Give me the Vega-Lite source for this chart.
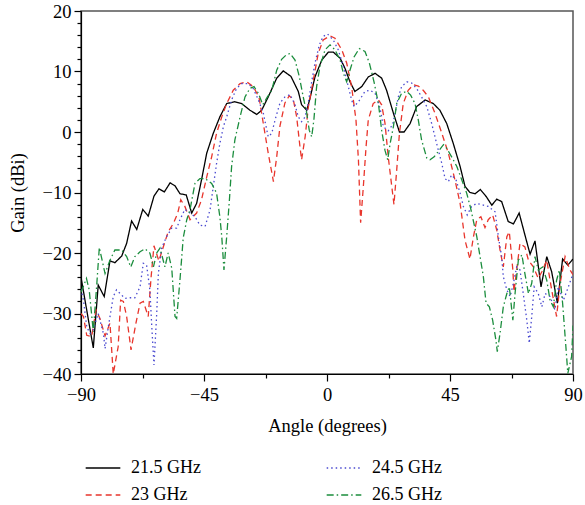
{
"$schema": "https://vega.github.io/schema/vega-lite/v6.json",
"width": 492, "height": 363,
"autosize": "none",
"padding": {"left": 81, "top": 11, "right": 12, "bottom": 131},
"background": "white",
"config": {"view": {"stroke": "#555", "strokeWidth": 1.5}, "font": "Liberation Serif"},
"data": {"values": [
{"s":"21.5 GHz","a":-90,"g":-24},{"s":"21.5 GHz","a":-85.5,"g":-35.7},{"s":"21.5 GHz","a":-83.7,"g":-25.3},{"s":"21.5 GHz","a":-81.5,"g":-27.2},{"s":"21.5 GHz","a":-79.4,"g":-21.3},{"s":"21.5 GHz","a":-77.6,"g":-21.6},{"s":"21.5 GHz","a":-75.1,"g":-20.5},{"s":"21.5 GHz","a":-73.3,"g":-18.4},{"s":"21.5 GHz","a":-71.5,"g":-14.7},{"s":"21.5 GHz","a":-69.6,"g":-16.1},{"s":"21.5 GHz","a":-67.4,"g":-12.8},{"s":"21.5 GHz","a":-65.4,"g":-13.9},{"s":"21.5 GHz","a":-63.3,"g":-10.6},{"s":"21.5 GHz","a":-61.5,"g":-9.4},{"s":"21.5 GHz","a":-59.5,"g":-9.9},{"s":"21.5 GHz","a":-57.4,"g":-8.4},{"s":"21.5 GHz","a":-55.6,"g":-8.9},{"s":"21.5 GHz","a":-53.8,"g":-10.2},{"s":"21.5 GHz","a":-51.5,"g":-10.4},{"s":"21.5 GHz","a":-49.5,"g":-13.4},{"s":"21.5 GHz","a":-47.7,"g":-11.8},{"s":"21.5 GHz","a":-45.9,"g":-7.9},{"s":"21.5 GHz","a":-44,"g":-3.5},{"s":"21.5 GHz","a":-41.6,"g":-0.2},{"s":"21.5 GHz","a":-39.2,"g":2.5},{"s":"21.5 GHz","a":-36.7,"g":4.7},{"s":"21.5 GHz","a":-33.7,"g":5},{"s":"21.5 GHz","a":-31.2,"g":4.7},{"s":"21.5 GHz","a":-28.2,"g":3.6},{"s":"21.5 GHz","a":-25.7,"g":2.9},{"s":"21.5 GHz","a":-23.9,"g":3.6},{"s":"21.5 GHz","a":-21.5,"g":5.8},{"s":"21.5 GHz","a":-18.4,"g":8.9},{"s":"21.5 GHz","a":-16,"g":10.1},{"s":"21.5 GHz","a":-13.2,"g":9.2},{"s":"21.5 GHz","a":-10.5,"g":6.7},{"s":"21.5 GHz","a":-9.3,"g":4.5},{"s":"21.5 GHz","a":-7.4,"g":3.6},{"s":"21.5 GHz","a":-6.2,"g":5.6},{"s":"21.5 GHz","a":-4.4,"g":9.1},{"s":"21.5 GHz","a":-1.9,"g":11.9},{"s":"21.5 GHz","a":0.5,"g":13.2},{"s":"21.5 GHz","a":2.3,"g":13.2},{"s":"21.5 GHz","a":4.8,"g":12.2},{"s":"21.5 GHz","a":6.6,"g":10.5},{"s":"21.5 GHz","a":8.4,"g":8.3},{"s":"21.5 GHz","a":10.2,"g":6.7},{"s":"21.5 GHz","a":12.7,"g":7.5},{"s":"21.5 GHz","a":15.1,"g":9.1},{"s":"21.5 GHz","a":17.6,"g":9.7},{"s":"21.5 GHz","a":20,"g":8.9},{"s":"21.5 GHz","a":21.8,"g":6.9},{"s":"21.5 GHz","a":24.3,"g":3.1},{"s":"21.5 GHz","a":26.5,"g":0},{"s":"21.5 GHz","a":28.2,"g":0},{"s":"21.5 GHz","a":30.4,"g":1.4},{"s":"21.5 GHz","a":32.8,"g":4.2},{"s":"21.5 GHz","a":35.9,"g":5.3},{"s":"21.5 GHz","a":38.9,"g":4.7},{"s":"21.5 GHz","a":41.3,"g":3.6},{"s":"21.5 GHz","a":43.8,"g":1.4},{"s":"21.5 GHz","a":46.2,"g":-1.9},{"s":"21.5 GHz","a":48.7,"g":-5.7},{"s":"21.5 GHz","a":50.5,"g":-9},{"s":"21.5 GHz","a":52.3,"g":-10},{"s":"21.5 GHz","a":54.2,"g":-10.2},{"s":"21.5 GHz","a":56.1,"g":-9.5},{"s":"21.5 GHz","a":58.3,"g":-10.7},{"s":"21.5 GHz","a":60.3,"g":-12.1},{"s":"21.5 GHz","a":62.1,"g":-11.1},{"s":"21.5 GHz","a":63.9,"g":-11.5},{"s":"21.5 GHz","a":66.3,"g":-14.8},{"s":"21.5 GHz","a":68.2,"g":-15.2},{"s":"21.5 GHz","a":70.3,"g":-13.4},{"s":"21.5 GHz","a":72.4,"g":-17},{"s":"21.5 GHz","a":74.3,"g":-20.2},{"s":"21.5 GHz","a":76.1,"g":-18},{"s":"21.5 GHz","a":78.3,"g":-25.6},{"s":"21.5 GHz","a":80.4,"g":-20.6},{"s":"21.5 GHz","a":82.2,"g":-23.1},{"s":"21.5 GHz","a":84.3,"g":-28.3},{"s":"21.5 GHz","a":86.2,"g":-21},{"s":"21.5 GHz","a":88.1,"g":-22},{"s":"21.5 GHz","a":90,"g":-21},
{"s":"23 GHz","a":-90,"g":-30},{"s":"23 GHz","a":-89.1,"g":-30.5},{"s":"23 GHz","a":-87.9,"g":-33.6},{"s":"23 GHz","a":-86.1,"g":-33.8},{"s":"23 GHz","a":-84.5,"g":-29.4},{"s":"23 GHz","a":-83.1,"g":-30.8},{"s":"23 GHz","a":-81.2,"g":-33.7},{"s":"23 GHz","a":-79.4,"g":-31.6},{"s":"23 GHz","a":-78.2,"g":-40},{"s":"23 GHz","a":-76.4,"g":-35.5},{"s":"23 GHz","a":-75.5,"g":-27.8},{"s":"23 GHz","a":-74.5,"g":-28},{"s":"23 GHz","a":-73.3,"g":-30.5},{"s":"23 GHz","a":-71.7,"g":-36},{"s":"23 GHz","a":-69.9,"g":-31.6},{"s":"23 GHz","a":-68.4,"g":-28.3},{"s":"23 GHz","a":-67.2,"g":-28},{"s":"23 GHz","a":-65.4,"g":-30.5},{"s":"23 GHz","a":-64.4,"g":-24.2},{"s":"23 GHz","a":-63.3,"g":-18.8},{"s":"23 GHz","a":-61.5,"g":-21.3},{"s":"23 GHz","a":-59.9,"g":-19},{"s":"23 GHz","a":-58.1,"g":-16.5},{"s":"23 GHz","a":-56.2,"g":-15.1},{"s":"23 GHz","a":-54.6,"g":-13.4},{"s":"23 GHz","a":-53.5,"g":-11.2},{"s":"23 GHz","a":-52,"g":-12.3},{"s":"23 GHz","a":-50.1,"g":-14.5},{"s":"23 GHz","a":-47.7,"g":-13.4},{"s":"23 GHz","a":-45.9,"g":-11.2},{"s":"23 GHz","a":-44,"g":-7.4},{"s":"23 GHz","a":-42.2,"g":-4.1},{"s":"23 GHz","a":-40.4,"g":-0.2},{"s":"23 GHz","a":-38.5,"g":2.5},{"s":"23 GHz","a":-36.7,"g":4.7},{"s":"23 GHz","a":-34.3,"g":6.9},{"s":"23 GHz","a":-31.8,"g":8},{"s":"23 GHz","a":-29.4,"g":8.3},{"s":"23 GHz","a":-27,"g":7.5},{"s":"23 GHz","a":-24.9,"g":5.8},{"s":"23 GHz","a":-23.3,"g":1.4},{"s":"23 GHz","a":-21.5,"g":-3.5},{"s":"23 GHz","a":-19.6,"g":-8.2},{"s":"23 GHz","a":-18.4,"g":-4.1},{"s":"23 GHz","a":-17.2,"g":1},{"s":"23 GHz","a":-15.4,"g":4.8},{"s":"23 GHz","a":-13.8,"g":6},{"s":"23 GHz","a":-12.3,"g":5.3},{"s":"23 GHz","a":-11.1,"g":2.5},{"s":"23 GHz","a":-9.9,"g":-2.4},{"s":"23 GHz","a":-9.3,"g":-4.6},{"s":"23 GHz","a":-8,"g":-0.8},{"s":"23 GHz","a":-6.8,"g":4.2},{"s":"23 GHz","a":-5,"g":8.6},{"s":"23 GHz","a":-3.2,"g":13},{"s":"23 GHz","a":-1.4,"g":15.2},{"s":"23 GHz","a":1.1,"g":15.9},{"s":"23 GHz","a":2.9,"g":15.5},{"s":"23 GHz","a":5.4,"g":13.6},{"s":"23 GHz","a":7.2,"g":11.4},{"s":"23 GHz","a":9,"g":7.5},{"s":"23 GHz","a":10.6,"g":2},{"s":"23 GHz","a":11.5,"g":-4.6},{"s":"23 GHz","a":12.3,"g":-15},{"s":"23 GHz","a":13.3,"g":-9},{"s":"23 GHz","a":14.3,"g":-2.4},{"s":"23 GHz","a":15.1,"g":2},{"s":"23 GHz","a":16.9,"g":4.7},{"s":"23 GHz","a":18.8,"g":5.3},{"s":"23 GHz","a":20,"g":4.5},{"s":"23 GHz","a":21.2,"g":1.5},{"s":"23 GHz","a":22.4,"g":-4.1},{"s":"23 GHz","a":23.7,"g":-9},{"s":"23 GHz","a":24.5,"g":-12},{"s":"23 GHz","a":25.5,"g":-6.3},{"s":"23 GHz","a":26.5,"g":-0.2},{"s":"23 GHz","a":27.9,"g":4.7},{"s":"23 GHz","a":29.7,"g":6.9},{"s":"23 GHz","a":31.6,"g":7.8},{"s":"23 GHz","a":33.4,"g":7.6},{"s":"23 GHz","a":35.2,"g":6.9},{"s":"23 GHz","a":37.1,"g":5.8},{"s":"23 GHz","a":39.5,"g":3.1},{"s":"23 GHz","a":42,"g":-0.2},{"s":"23 GHz","a":44.4,"g":-3.5},{"s":"23 GHz","a":46.8,"g":-7.9},{"s":"23 GHz","a":48.7,"g":-11.8},{"s":"23 GHz","a":50.5,"g":-17.9},{"s":"23 GHz","a":52.3,"g":-21},{"s":"23 GHz","a":53.5,"g":-17.5},{"s":"23 GHz","a":54.8,"g":-14.5},{"s":"23 GHz","a":56.3,"g":-14},{"s":"23 GHz","a":57.8,"g":-15.8},{"s":"23 GHz","a":59,"g":-14.5},{"s":"23 GHz","a":60.6,"g":-13.7},{"s":"23 GHz","a":62.1,"g":-16.2},{"s":"23 GHz","a":63.3,"g":-19.5},{"s":"23 GHz","a":64.5,"g":-22.3},{"s":"23 GHz","a":65.8,"g":-17.3},{"s":"23 GHz","a":66.7,"g":-16.5},{"s":"23 GHz","a":68,"g":-22.8},{"s":"23 GHz","a":68.4,"g":-26.4},{"s":"23 GHz","a":69.4,"g":-22.8},{"s":"23 GHz","a":70.6,"g":-18.4},{"s":"23 GHz","a":72.4,"g":-19},{"s":"23 GHz","a":73.7,"g":-21.2},{"s":"23 GHz","a":75.5,"g":-22.3},{"s":"23 GHz","a":77.3,"g":-24.2},{"s":"23 GHz","a":78.6,"g":-23.1},{"s":"23 GHz","a":80.4,"g":-21.2},{"s":"23 GHz","a":82.2,"g":-26.1},{"s":"23 GHz","a":84,"g":-30.5},{"s":"23 GHz","a":85.3,"g":-25},{"s":"23 GHz","a":87.1,"g":-20.6},{"s":"23 GHz","a":88.9,"g":-22.8},{"s":"23 GHz","a":90,"g":-23.6},
{"s":"24.5 GHz","a":-90,"g":-26},{"s":"24.5 GHz","a":-89.1,"g":-27.8},{"s":"24.5 GHz","a":-87.9,"g":-32.2},{"s":"24.5 GHz","a":-86.7,"g":-33.3},{"s":"24.5 GHz","a":-85.5,"g":-32.7},{"s":"24.5 GHz","a":-83.7,"g":-30},{"s":"24.5 GHz","a":-81.8,"g":-33.3},{"s":"24.5 GHz","a":-81.2,"g":-35.8},{"s":"24.5 GHz","a":-80,"g":-32.2},{"s":"24.5 GHz","a":-78.2,"g":-27.2},{"s":"24.5 GHz","a":-77,"g":-26.1},{"s":"24.5 GHz","a":-75.7,"g":-26.7},{"s":"24.5 GHz","a":-73.9,"g":-27.5},{"s":"24.5 GHz","a":-72.1,"g":-27.4},{"s":"24.5 GHz","a":-70.3,"g":-27.4},{"s":"24.5 GHz","a":-68.4,"g":-25.6},{"s":"24.5 GHz","a":-67.2,"g":-21.7},{"s":"24.5 GHz","a":-66,"g":-22},{"s":"24.5 GHz","a":-64.8,"g":-26.1},{"s":"24.5 GHz","a":-64.1,"g":-32.2},{"s":"24.5 GHz","a":-63.3,"g":-38.5},{"s":"24.5 GHz","a":-62.3,"g":-30},{"s":"24.5 GHz","a":-61.7,"g":-23.4},{"s":"24.5 GHz","a":-60.5,"g":-19.2},{"s":"24.5 GHz","a":-58.7,"g":-17.3},{"s":"24.5 GHz","a":-56.8,"g":-15.9},{"s":"24.5 GHz","a":-55,"g":-15.9},{"s":"24.5 GHz","a":-53.8,"g":-14.5},{"s":"24.5 GHz","a":-52,"g":-12.8},{"s":"24.5 GHz","a":-50.1,"g":-13.4},{"s":"24.5 GHz","a":-48.3,"g":-14},{"s":"24.5 GHz","a":-46.5,"g":-15.4},{"s":"24.5 GHz","a":-44.6,"g":-15.6},{"s":"24.5 GHz","a":-42.8,"g":-12.9},{"s":"24.5 GHz","a":-41.6,"g":-9},{"s":"24.5 GHz","a":-40.4,"g":-5.2},{"s":"24.5 GHz","a":-39.2,"g":-1.9},{"s":"24.5 GHz","a":-37.9,"g":0.9},{"s":"24.5 GHz","a":-36.7,"g":2.5},{"s":"24.5 GHz","a":-34.9,"g":5.3},{"s":"24.5 GHz","a":-33.1,"g":7.2},{"s":"24.5 GHz","a":-31.2,"g":8},{"s":"24.5 GHz","a":-28.8,"g":8},{"s":"24.5 GHz","a":-27,"g":7.2},{"s":"24.5 GHz","a":-25.1,"g":5.3},{"s":"24.5 GHz","a":-23.3,"g":3.1},{"s":"24.5 GHz","a":-21.5,"g":-0.8},{"s":"24.5 GHz","a":-20.2,"g":-0.2},{"s":"24.5 GHz","a":-19,"g":2},{"s":"24.5 GHz","a":-17.2,"g":4.8},{"s":"24.5 GHz","a":-15.4,"g":5.8},{"s":"24.5 GHz","a":-13.5,"g":6.2},{"s":"24.5 GHz","a":-11.7,"g":4.5},{"s":"24.5 GHz","a":-10.5,"g":2.5},{"s":"24.5 GHz","a":-9.3,"g":1.7},{"s":"24.5 GHz","a":-8,"g":2.5},{"s":"24.5 GHz","a":-6.8,"g":5},{"s":"24.5 GHz","a":-5.6,"g":8.3},{"s":"24.5 GHz","a":-4.4,"g":11.4},{"s":"24.5 GHz","a":-2.8,"g":14.4},{"s":"24.5 GHz","a":-1.4,"g":15.8},{"s":"24.5 GHz","a":0.2,"g":16.2},{"s":"24.5 GHz","a":2.3,"g":15.2},{"s":"24.5 GHz","a":4.1,"g":13.6},{"s":"24.5 GHz","a":6,"g":10.8},{"s":"24.5 GHz","a":7.8,"g":7.5},{"s":"24.5 GHz","a":9,"g":5.3},{"s":"24.5 GHz","a":9.9,"g":4.2},{"s":"24.5 GHz","a":11.5,"g":5},{"s":"24.5 GHz","a":13.9,"g":6.7},{"s":"24.5 GHz","a":15.7,"g":6.9},{"s":"24.5 GHz","a":17.6,"g":6.4},{"s":"24.5 GHz","a":19.4,"g":4},{"s":"24.5 GHz","a":20.6,"g":0.9},{"s":"24.5 GHz","a":22.4,"g":0.2},{"s":"24.5 GHz","a":24,"g":1.2},{"s":"24.5 GHz","a":24.9,"g":3.1},{"s":"24.5 GHz","a":26.1,"g":5.8},{"s":"24.5 GHz","a":27.3,"g":7.5},{"s":"24.5 GHz","a":29.2,"g":8.3},{"s":"24.5 GHz","a":31,"g":8.1},{"s":"24.5 GHz","a":32.8,"g":7.2},{"s":"24.5 GHz","a":34.6,"g":5.8},{"s":"24.5 GHz","a":36.5,"g":4.2},{"s":"24.5 GHz","a":38.3,"g":1.4},{"s":"24.5 GHz","a":40.1,"g":-1.9},{"s":"24.5 GHz","a":42,"g":-5.2},{"s":"24.5 GHz","a":43.2,"g":-7.7},{"s":"24.5 GHz","a":44.4,"g":-8.2},{"s":"24.5 GHz","a":45.6,"g":-7.1},{"s":"24.5 GHz","a":47.2,"g":-7.9},{"s":"24.5 GHz","a":48.7,"g":-10.1},{"s":"24.5 GHz","a":49.9,"g":-12.3},{"s":"24.5 GHz","a":51.3,"g":-13.7},{"s":"24.5 GHz","a":52.9,"g":-12.3},{"s":"24.5 GHz","a":54.8,"g":-11.8},{"s":"24.5 GHz","a":56.6,"g":-12},{"s":"24.5 GHz","a":59,"g":-12.3},{"s":"24.5 GHz","a":61.5,"g":-13.2},{"s":"24.5 GHz","a":62.7,"g":-17.3},{"s":"24.5 GHz","a":63.9,"g":-20.6},{"s":"24.5 GHz","a":64.5,"g":-23.9},{"s":"24.5 GHz","a":65.8,"g":-26.1},{"s":"24.5 GHz","a":67,"g":-27.2},{"s":"24.5 GHz","a":68.2,"g":-25},{"s":"24.5 GHz","a":69.4,"g":-22.3},{"s":"24.5 GHz","a":70.6,"g":-22.8},{"s":"24.5 GHz","a":71.8,"g":-26.7},{"s":"24.5 GHz","a":73.1,"g":-31.1},{"s":"24.5 GHz","a":74,"g":-34.9},{"s":"24.5 GHz","a":74.9,"g":-30.5},{"s":"24.5 GHz","a":75.8,"g":-25.6},{"s":"24.5 GHz","a":77.3,"g":-26.7},{"s":"24.5 GHz","a":78.6,"g":-28.9},{"s":"24.5 GHz","a":79.8,"g":-26.7},{"s":"24.5 GHz","a":81.6,"g":-27.2},{"s":"24.5 GHz","a":83.4,"g":-29.4},{"s":"24.5 GHz","a":84.6,"g":-25.6},{"s":"24.5 GHz","a":86.5,"g":-27.8},{"s":"24.5 GHz","a":88.3,"g":-25.6},{"s":"24.5 GHz","a":90,"g":-23.4},
{"s":"26.5 GHz","a":-90,"g":-26.5},{"s":"26.5 GHz","a":-88,"g":-24.2},{"s":"26.5 GHz","a":-87,"g":-26.1},{"s":"26.5 GHz","a":-85.5,"g":-33},{"s":"26.5 GHz","a":-84.2,"g":-25},{"s":"26.5 GHz","a":-83.3,"g":-19.1},{"s":"26.5 GHz","a":-81.2,"g":-23.4},{"s":"26.5 GHz","a":-79.4,"g":-21.2},{"s":"26.5 GHz","a":-77.6,"g":-19.5},{"s":"26.5 GHz","a":-75.1,"g":-19.5},{"s":"26.5 GHz","a":-73.3,"g":-20.6},{"s":"26.5 GHz","a":-71.8,"g":-22.3},{"s":"26.5 GHz","a":-70.3,"g":-20.6},{"s":"26.5 GHz","a":-68.4,"g":-19.8},{"s":"26.5 GHz","a":-66.6,"g":-19.3},{"s":"26.5 GHz","a":-64.8,"g":-20},{"s":"26.5 GHz","a":-63.5,"g":-22.3},{"s":"26.5 GHz","a":-62.3,"g":-20},{"s":"26.5 GHz","a":-61.1,"g":-19.2},{"s":"26.5 GHz","a":-59.3,"g":-22.3},{"s":"26.5 GHz","a":-58.1,"g":-20},{"s":"26.5 GHz","a":-56.8,"g":-22.5},{"s":"26.5 GHz","a":-55.6,"g":-30.5},{"s":"26.5 GHz","a":-55,"g":-30.8},{"s":"26.5 GHz","a":-53.8,"g":-24.5},{"s":"26.5 GHz","a":-52.6,"g":-17.5},{"s":"26.5 GHz","a":-51.3,"g":-14.5},{"s":"26.5 GHz","a":-50.1,"g":-12.8},{"s":"26.5 GHz","a":-48.3,"g":-8.5},{"s":"26.5 GHz","a":-46.5,"g":-7.7},{"s":"26.5 GHz","a":-44.6,"g":-7.7},{"s":"26.5 GHz","a":-42.2,"g":-8.5},{"s":"26.5 GHz","a":-40.4,"g":-10.1},{"s":"26.5 GHz","a":-39.2,"g":-14},{"s":"26.5 GHz","a":-38.5,"g":-17.3},{"s":"26.5 GHz","a":-37.7,"g":-22.8},{"s":"26.5 GHz","a":-36.7,"g":-17.3},{"s":"26.5 GHz","a":-35.7,"g":-11.2},{"s":"26.5 GHz","a":-34.9,"g":-5.7},{"s":"26.5 GHz","a":-33.7,"g":-1.3},{"s":"26.5 GHz","a":-31.8,"g":2.5},{"s":"26.5 GHz","a":-30,"g":5.8},{"s":"26.5 GHz","a":-28.2,"g":7.2},{"s":"26.5 GHz","a":-26.7,"g":7.5},{"s":"26.5 GHz","a":-25.1,"g":6.4},{"s":"26.5 GHz","a":-23.5,"g":4.5},{"s":"26.5 GHz","a":-21.8,"g":5.8},{"s":"26.5 GHz","a":-20.2,"g":6.9},{"s":"26.5 GHz","a":-18.4,"g":10.2},{"s":"26.5 GHz","a":-16.6,"g":12},{"s":"26.5 GHz","a":-15,"g":12.7},{"s":"26.5 GHz","a":-13.5,"g":13},{"s":"26.5 GHz","a":-11.7,"g":11.9},{"s":"26.5 GHz","a":-10.1,"g":9.1},{"s":"26.5 GHz","a":-8.7,"g":5.8},{"s":"26.5 GHz","a":-7.4,"g":3.1},{"s":"26.5 GHz","a":-6.5,"g":0.3},{"s":"26.5 GHz","a":-5.6,"g":-0.8},{"s":"26.5 GHz","a":-4.8,"g":2},{"s":"26.5 GHz","a":-3.8,"g":7.5},{"s":"26.5 GHz","a":-2.6,"g":10.8},{"s":"26.5 GHz","a":-0.7,"g":13.6},{"s":"26.5 GHz","a":1.1,"g":14.4},{"s":"26.5 GHz","a":2.9,"g":13.6},{"s":"26.5 GHz","a":4.8,"g":11.9},{"s":"26.5 GHz","a":6,"g":9.7},{"s":"26.5 GHz","a":7.2,"g":8.3},{"s":"26.5 GHz","a":8.4,"g":10.2},{"s":"26.5 GHz","a":9.9,"g":12.4},{"s":"26.5 GHz","a":11.8,"g":13.8},{"s":"26.5 GHz","a":13.9,"g":13.3},{"s":"26.5 GHz","a":15.5,"g":11.4},{"s":"26.5 GHz","a":17.2,"g":8.3},{"s":"26.5 GHz","a":18.8,"g":4.7},{"s":"26.5 GHz","a":20,"g":0.3},{"s":"26.5 GHz","a":21.2,"g":-3},{"s":"26.5 GHz","a":22.2,"g":-4.6},{"s":"26.5 GHz","a":23.1,"g":-1.9},{"s":"26.5 GHz","a":24.3,"g":0.9},{"s":"26.5 GHz","a":25.5,"g":4.7},{"s":"26.5 GHz","a":27.3,"g":6.4},{"s":"26.5 GHz","a":29.2,"g":6.7},{"s":"26.5 GHz","a":30.6,"g":6.1},{"s":"26.5 GHz","a":32.2,"g":4.7},{"s":"26.5 GHz","a":33.4,"g":2},{"s":"26.5 GHz","a":34.6,"g":-1.3},{"s":"26.5 GHz","a":36.5,"g":-4.3},{"s":"26.5 GHz","a":37.7,"g":-4.6},{"s":"26.5 GHz","a":39.2,"g":-4.1},{"s":"26.5 GHz","a":41.1,"g":-3},{"s":"26.5 GHz","a":42.6,"g":-2.1},{"s":"26.5 GHz","a":43.8,"g":-2.7},{"s":"26.5 GHz","a":45.6,"g":-4.1},{"s":"26.5 GHz","a":47.5,"g":-5.7},{"s":"26.5 GHz","a":49.3,"g":-7.9},{"s":"26.5 GHz","a":51.1,"g":-10.1},{"s":"26.5 GHz","a":52.5,"g":-12.5},{"s":"26.5 GHz","a":53.6,"g":-14.8},{"s":"26.5 GHz","a":54.8,"g":-17.3},{"s":"26.5 GHz","a":56,"g":-20.6},{"s":"26.5 GHz","a":57.2,"g":-23.9},{"s":"26.5 GHz","a":58.2,"g":-28.3},{"s":"26.5 GHz","a":59.4,"g":-28.9},{"s":"26.5 GHz","a":60.6,"g":-31.1},{"s":"26.5 GHz","a":61.8,"g":-34.4},{"s":"26.5 GHz","a":62.3,"g":-36.3},{"s":"26.5 GHz","a":63.3,"g":-33.3},{"s":"26.5 GHz","a":64.5,"g":-28.9},{"s":"26.5 GHz","a":65.8,"g":-26.7},{"s":"26.5 GHz","a":66.7,"g":-25.6},{"s":"26.5 GHz","a":68,"g":-31.1},{"s":"26.5 GHz","a":68.8,"g":-26.7},{"s":"26.5 GHz","a":70,"g":-21.2},{"s":"26.5 GHz","a":71.3,"g":-20.3},{"s":"26.5 GHz","a":72.4,"g":-23.4},{"s":"26.5 GHz","a":73.7,"g":-26.7},{"s":"26.5 GHz","a":74.9,"g":-25},{"s":"26.5 GHz","a":76.1,"g":-20.6},{"s":"26.5 GHz","a":77.3,"g":-22.8},{"s":"26.5 GHz","a":78.9,"g":-22.3},{"s":"26.5 GHz","a":80.4,"g":-24.5},{"s":"26.5 GHz","a":81.6,"g":-27.8},{"s":"26.5 GHz","a":82.8,"g":-28.9},{"s":"26.5 GHz","a":84,"g":-24.5},{"s":"26.5 GHz","a":85,"g":-22.8},{"s":"26.5 GHz","a":86.2,"g":-28.3},{"s":"26.5 GHz","a":87.4,"g":-35.5},{"s":"26.5 GHz","a":88.1,"g":-39.9},{"s":"26.5 GHz","a":89.5,"g":-37.1},{"s":"26.5 GHz","a":90,"g":-32}
]},
"mark": {"type": "line", "strokeWidth": 1.3, "clip": true},
"encoding": {
  "x": {"field": "a", "type": "quantitative", "scale": {"domain": [-90, 90], "nice": false, "zero": false},
    "axis": {"values": [-90,-67.5,-45,-22.5,0,22.5,45,67.5,90], "format": ".0f", "labelExpr": "datum.value % 45 === 0 ? datum.label : ''",
      "tickSize": {"condition": {"test": "datum.value % 45 === 0", "value": 7}, "value": 4},
      "grid": false, "domainColor": "black", "tickColor": "black", "tickWidth": 1.2, "domainWidth": 1.2,
      "labelFontSize": 18.5, "labelColor": "black", "labelPadding": 4, "labelOverlap": false, "labelFlush": false,
      "title": "Angle (degrees)", "titleFontSize": 18.5, "titleFontWeight": "normal", "titleColor": "black", "titlePadding": 13}},
  "y": {"field": "g", "type": "quantitative", "scale": {"domain": [-40, 20], "nice": false, "zero": false},
    "axis": {"values": [-40,-38,-36,-34,-32,-30,-28,-26,-24,-22,-20,-18,-16,-14,-12,-10,-8,-6,-4,-2,0,2,4,6,8,10,12,14,16,18,20], "labelExpr": "datum.value % 10 === 0 ? datum.label : ''",
      "tickSize": {"condition": {"test": "datum.value % 10 === 0", "value": 7}, "value": 4},
      "grid": false, "domainColor": "black", "tickColor": "black", "tickWidth": 1.2, "domainWidth": 1.2,
      "labelFontSize": 18.5, "labelColor": "black", "labelPadding": 3, "labelOverlap": false, "labelFlush": false,
      "title": "Gain (dBi)", "titleFontSize": 18.5, "titleFontWeight": "normal", "titleColor": "black", "titlePadding": 15}},
  "color": {"field": "s", "type": "nominal",
    "scale": {"domain": ["21.5 GHz","23 GHz","24.5 GHz","26.5 GHz"], "range": ["#000000","#e8352c","#4a4ad0","#1b8d3d"]},
    "legend": {"title": null, "orient": "none", "legendX": 4, "legendY": 439, "columns": 2, "columnPadding": 123, "rowPadding": -7,
      "symbolType": "stroke", "symbolSize": 1200, "symbolStrokeWidth": 1.3, "labelFontSize": 18, "labelColor": "black", "labelOffset": 10, "labelLimit": 200}},
  "strokeDash": {"field": "s", "type": "nominal",
    "scale": {"domain": ["21.5 GHz","23 GHz","24.5 GHz","26.5 GHz"], "range": [[1,0],[6,4],[1.5,3],[7,3,1.5,3]]}}
}
}
